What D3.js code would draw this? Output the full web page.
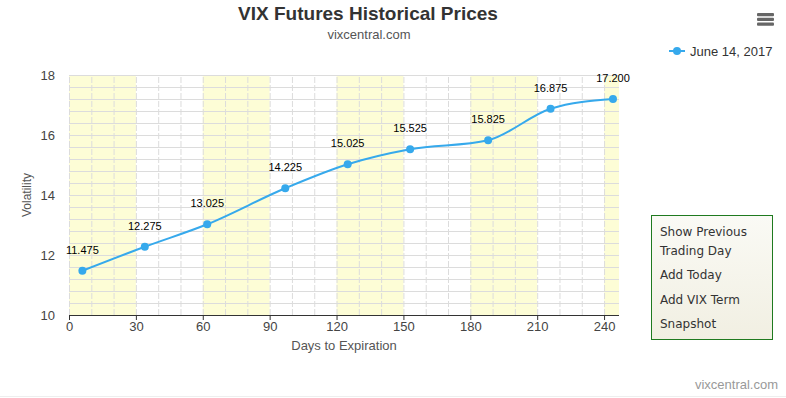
<!DOCTYPE html>
<html>
<head>
<meta charset="utf-8">
<script src="https://cdn.jsdelivr.net/npm/d3@7"></script>
<style>
  body { margin: 0; background: #fff; }
  svg { font-family: "Liberation Sans", Arial, sans-serif; }
</style>
</head>
<body>
<svg id="chart"></svg>
<script>
// data
const days = [6, 34, 62, 97, 125, 153, 188, 216, 244]
const prices = [11.475, 12.275, 13.025, 14.225, 15.025, 15.525, 15.825, 16.875, 17.200]
const xTicks = [0, 30, 60, 90, 120, 150, 180, 210, 240]
const yTicks = [10, 12, 14, 16, 18]
const bands = [[0, 30], [60, 90], [120, 150], [180, 210], [240, 246.7]]
const buttons = ['Show Previous', 'Trading Day', 'Add Today', 'Add VIX Term', 'Snapshot']
const seriesName = 'June 14, 2017'

const width = 786, height = 398
const plot = { left: 69, right: 619, top: 75, bottom: 315 }

const svg = d3.select('#chart')
  .attr('width', width)
  .attr('height', height)

// scales
const x = d3.scaleLinear().domain([0, 246.7]).range([plot.left, plot.right])
const y = d3.scaleLinear().domain([10, 18]).range([plot.bottom, plot.top])

// yellow bands
svg.append('g').selectAll('rect')
  .data(bands)
  .join('rect')
  .attr('x', d => x(d[0]))
  .attr('width', d => x(d[1]) - x(d[0]))
  .attr('y', plot.top)
  .attr('height', plot.bottom - plot.top)
  .attr('fill', '#fdfdd6')

// horizontal grid every 0.4
svg.append('g')
  .call(d3.axisLeft(y).tickValues(d3.range(10, 18.01, 0.4)).tickSize(-(plot.right - plot.left)).tickFormat(''))
  .attr('transform', `translate(${plot.left},0)`)
  .call(g => g.select('.domain').remove())
  .call(g => g.selectAll('line').attr('stroke', '#dcdcdc'))

// vertical grid every 10 days
svg.append('g')
  .call(d3.axisBottom(x).tickValues(d3.range(0, 241, 10)).tickSize(-(plot.bottom - plot.top)).tickFormat(''))
  .attr('transform', `translate(0,${plot.bottom})`)
  .call(g => g.select('.domain').remove())
  .call(g => g.selectAll('line').attr('stroke', '#dcdcdc').attr('stroke-dasharray', '6,2'))

// x axis
svg.append('g')
  .call(d3.axisBottom(x).tickValues(xTicks).tickSize(5).tickPadding(2).tickSizeOuter(0))
  .attr('transform', `translate(0,${plot.bottom})`)
  .call(g => g.select('.domain').attr('stroke', '#333').attr('d', `M${plot.left},0.5H${plot.right}`))
  .call(g => g.selectAll('line').attr('stroke', '#333'))
  .call(g => g.selectAll('text').attr('fill', '#444').attr('font-size', 13).attr('font-family', null))

// y axis
svg.append('g')
  .call(d3.axisLeft(y).tickValues(yTicks).tickSize(0).tickPadding(14))
  .attr('transform', `translate(${plot.left},0)`)
  .call(g => g.select('.domain').remove())
  .call(g => g.selectAll('text').attr('fill', '#444').attr('font-size', 13).attr('font-family', null))

// axis titles
svg.append('text')
  .attr('x', 344).attr('y', 350)
  .attr('text-anchor', 'middle')
  .attr('font-size', 13).attr('fill', '#555')
  .text('Days to Expiration')

svg.append('text')
  .attr('transform', `translate(31,${(plot.top + plot.bottom) / 2}) rotate(-90)`)
  .attr('text-anchor', 'middle')
  .attr('font-size', 12).attr('fill', '#555')
  .text('Volatility')

// line
const pts = days.map((d, i) => [d, prices[i]])
const line = d3.line()
  .x(d => x(d[0]))
  .y(d => y(d[1]))
  .curve(d3.curveMonotoneX)

svg.append('path')
  .datum(pts)
  .attr('d', line)
  .attr('fill', 'none')
  .attr('stroke', '#36a9ec')
  .attr('stroke-width', 2)

svg.append('g').selectAll('circle')
  .data(pts)
  .join('circle')
  .attr('cx', d => x(d[0]))
  .attr('cy', d => y(d[1]))
  .attr('r', 4)
  .attr('fill', '#36a9ec')

// data labels
svg.append('g').selectAll('text')
  .data(pts)
  .join('text')
  .attr('x', d => x(d[0]))
  .attr('y', d => y(d[1]) - 17)
  .attr('text-anchor', 'middle')
  .attr('font-size', 11)
  .attr('fill', '#000')
  .text(d => d[1].toFixed(3))

// title
svg.append('text')
  .attr('x', 368).attr('y', 20)
  .attr('text-anchor', 'middle')
  .attr('font-size', 19).attr('font-weight', 'bold').attr('fill', '#333')
  .text('VIX Futures Historical Prices')

svg.append('text')
  .attr('x', 369).attr('y', 39)
  .attr('text-anchor', 'middle')
  .attr('font-size', 13).attr('fill', '#555')
  .text('vixcentral.com')

// legend
const lg = svg.append('g').attr('transform', 'translate(669,51)')
lg.append('line').attr('x1', 0).attr('x2', 16).attr('y1', 0).attr('y2', 0)
  .attr('stroke', '#36a9ec').attr('stroke-width', 2)
lg.append('circle').attr('cx', 8).attr('cy', 0).attr('r', 4).attr('fill', '#36a9ec')
lg.append('text').attr('x', 21).attr('y', 4.5)
  .attr('font-size', 13).attr('fill', '#333')
  .text(seriesName)

// menu icon
svg.append('g').selectAll('rect')
  .data([0, 1, 2])
  .join('rect')
  .attr('x', 757).attr('y', d => 13 + d * 4.7)
  .attr('width', 17).attr('height', 3.3)
  .attr('rx', 1)
  .attr('fill', '#666')

// button box
const defs = svg.append('defs')
const grad = defs.append('linearGradient').attr('id', 'btn').attr('x1', 0).attr('x2', 0).attr('y1', 0).attr('y2', 1)
grad.append('stop').attr('offset', '0%').attr('stop-color', '#fafaf5')
grad.append('stop').attr('offset', '100%').attr('stop-color', '#f1efe2')

const bx = svg.append('g').attr('transform', 'translate(651,215)')
bx.append('rect')
  .attr('x', 0.5).attr('y', 0.5)
  .attr('width', 121).attr('height', 124)
  .attr('fill', 'url(#btn)')
  .attr('stroke', '#1f7a1f')
bx.selectAll('text')
  .data(buttons)
  .join('text')
  .attr('x', 9)
  .attr('y', (d, i) => [21, 40, 64, 89, 113][i])
  .attr('font-family', '"DejaVu Sans", Verdana, sans-serif')
  .attr('font-size', 12)
  .attr('fill', '#333')
  .text(d => d)

// credit
svg.append('text')
  .attr('x', 778).attr('y', 389)
  .attr('text-anchor', 'end')
  .attr('font-size', 13).attr('fill', '#999')
  .text('vixcentral.com')

svg.append('line')
  .attr('x1', 0).attr('x2', width).attr('y1', 396.5).attr('y2', 396.5)
  .attr('stroke', '#eee')
</script>
</body>
</html>
